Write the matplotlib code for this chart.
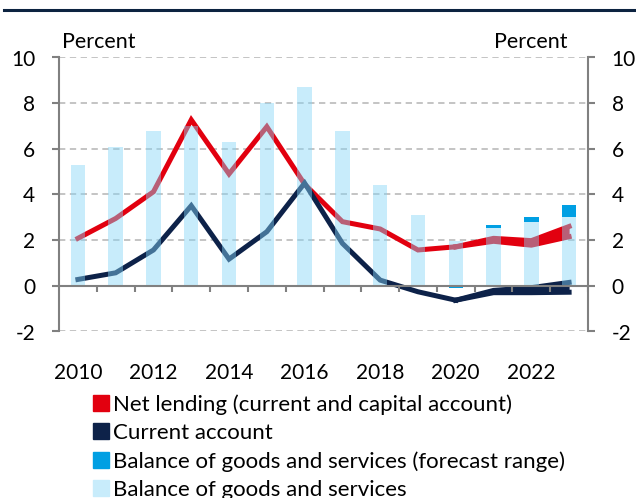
import numpy as np
import matplotlib
matplotlib.use("Agg")
import matplotlib.pyplot as plt
from matplotlib.patches import Patch
from matplotlib.lines import Line2D

plt.rcParams['font.family'] = ['Lato', 'DejaVu Sans']

years = list(range(2010, 2024))
balance = [5.3, 6.1, 6.8, 7.0, 6.3, 8.0, 8.7, 6.8, 4.4, 3.1, 1.95, 2.55, 2.8, 3.0]
forecast_bottom = [np.nan]*10 + [0.0, 2.55, 2.8, 3.0]
forecast_top = [np.nan]*10 + [-0.08, 2.65, 3.0, 3.55]

net_lending = [2.08, 2.95, 4.12, 7.27, 4.9, 6.97, 4.45, 2.81, 2.49, 1.57, 1.71]
net_lending_low = [1.71, 1.95, 1.78, 2.15]
net_lending_high = [1.71, 2.08, 1.98, 2.6]

current_account = [0.28, 0.57, 1.57, 3.51, 1.17, 2.37, 4.5, 1.86, 0.25, -0.26, -0.63]
current_low = [-0.63, -0.3, -0.3, -0.28]
current_high = [-0.63, -0.2, -0.08, 0.15]

tick_years = [2010, 2012, 2014, 2016, 2018, 2020, 2022]
yticks = [-2, 0, 2, 4, 6, 8, 10]

labels = ["Net lending (current and capital account)", "Current account",
          "Balance of goods and services (forecast range)", "Balance of goods and services"]

RED = '#E2000F'
NAVY = '#0D2249'
FBLUE = '#009FE3'
LBLUE_SOLID = '#C8ECFB'
LBLUE_BASE = '#85D5F7'
GREY = '#808080'

W, H = 636, 498
fig = plt.figure(figsize=(W/100, H/100), dpi=100)
x0, x1, ytop, ybot = 59, 588, 57.5, 331.5
ax = fig.add_axes([x0/W, 1-ybot/H, (x1-x0)/W, (ybot-ytop)/H])

x = np.arange(len(years))
n_hist = len(net_lending)
xf = x[n_hist-1:]

# lines
ax.plot(x[:n_hist], net_lending, color=RED, lw=3.6, zorder=2, solid_joinstyle='miter')
ax.fill_between(xf, net_lending_low, net_lending_high, color=RED, lw=0, zorder=2)
ax.plot(xf, net_lending_low, color=RED, lw=3.6, zorder=2)
ax.plot(xf, net_lending_high, color=RED, lw=3.6, zorder=2)

ax.plot(x[:n_hist], current_account, color=NAVY, lw=3.6, zorder=2, solid_joinstyle='miter')
ax.fill_between(xf, current_low, current_high, color=NAVY, lw=0, zorder=2)
ax.plot(xf, current_low, color=NAVY, lw=3.6, zorder=2)
ax.plot(xf, current_high, color=NAVY, lw=3.6, zorder=2)

# bars
bw = 0.38
ax.bar(x, balance, width=bw, color=LBLUE_BASE, alpha=0.45, zorder=3, lw=0)
fb = np.array(forecast_bottom, dtype=float)
ft = np.array(forecast_top, dtype=float)
ax.bar(x, ft - fb, bottom=fb, width=bw, color=FBLUE, zorder=4, lw=0)

# grid
for v in yticks:
    if v != 0:
        ax.axhline(v, color='#BFBFBF', lw=1.3, ls=(0, (3.5, 2.5)), zorder=1)
ax.axhline(0, color=GREY, lw=1.5, zorder=5)
for b in np.arange(-0.5, len(years) + 0.5, 1.0)[1:]:
    ax.plot([b, b], [0, -0.27], color=GREY, lw=1.5, zorder=5, solid_capstyle='butt')

ax.set_xlim(-0.5, len(years) - 0.5)
ax.set_ylim(-2, 10)
for s in ['top', 'bottom']:
    ax.spines[s].set_visible(False)
for s in ['left', 'right']:
    ax.spines[s].set_color(GREY)
    ax.spines[s].set_linewidth(1.5)

ax.set_yticks(yticks)
ax.set_yticklabels([str(v) for v in yticks])
ax.tick_params(axis='y', which='both', left=True, right=True, labelleft=True, labelright=True,
               direction='out', length=5, width=1.5, color=GREY, labelsize=15, pad=12,
               labelcolor='black')
ax.set_xticks([years.index(y) for y in tick_years])
ax.set_xticklabels([str(y) for y in tick_years])
ax.tick_params(axis='x', length=0, labelsize=15, pad=23)

fig.text(62/W, 1-42/H, "Percent", fontsize=15.5, ha='left', va='center')
fig.text(567/W, 1-42/H, "Percent", fontsize=15.5, ha='right', va='center')

# top rule
fig.add_artist(Line2D([4/W, 636/W], [1-10/H, 1-10/H], color='#0C2340', lw=2.2))

handles = [Patch(color=RED), Patch(color=NAVY), Patch(color=FBLUE), Patch(color=LBLUE_SOLID)]
leg = fig.legend(handles, labels, loc='upper left', bbox_to_anchor=(93/W, 1-394/H),
                 frameon=False, fontsize=16, handlelength=0.72, handleheight=0.72,
                 handletextpad=0.2, labelspacing=0.37, borderpad=0, borderaxespad=0)

fig.savefig('out.png', dpi=100)
